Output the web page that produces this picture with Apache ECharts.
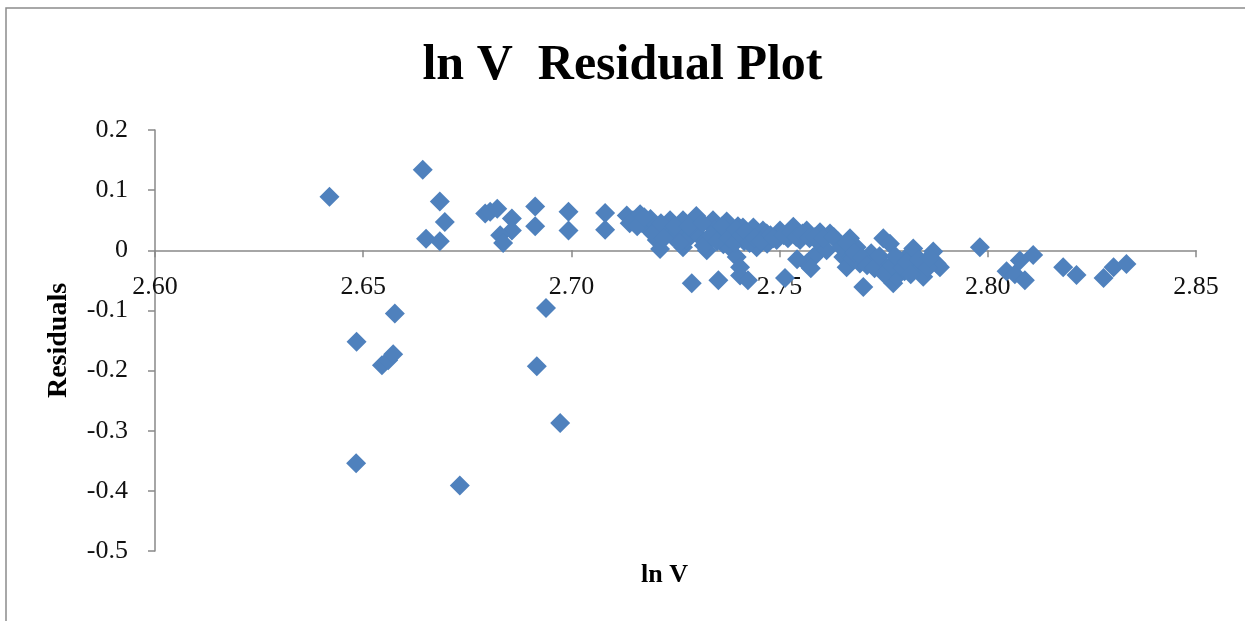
<!DOCTYPE html>
<html>
<head>
<meta charset="utf-8">
<script src="https://cdn.jsdelivr.net/npm/echarts@6/dist/echarts.min.js"></script>
<style>
html,body{margin:0;padding:0;background:#fff;}
#chart{width:1245px;height:621px;}
</style>
</head>
<body>
<div id="chart"></div>
<script>
// ln V values (x) and residuals (y)
const lnV = [
  2.6419, 2.6643, 2.6651, 2.6684, 2.6684, 2.6696, 2.6484, 2.6483, 2.6576, 2.6545,
  2.6560, 2.6572, 2.6732, 2.6939, 2.6917, 2.6973, 2.6793, 2.6805, 2.6822, 2.6857,
  2.6857, 2.6829, 2.6836, 2.6913, 2.6913, 2.6993, 2.6993, 2.7081, 2.7081,
  2.7133, 2.7148, 2.7165, 2.7170, 2.7180, 2.7190, 2.7205, 2.7205, 2.7213, 2.7229,
  2.7237, 2.7244, 2.7255, 2.7268, 2.7268, 2.7277, 2.7289, 2.7293, 2.7300, 2.7309,
  2.7325, 2.7325, 2.7340, 2.7345, 2.7353, 2.7357, 2.7365, 2.7373, 2.7380, 2.7388,
  2.7397, 2.7400, 2.7405, 2.7405, 2.7412, 2.7415, 2.7421, 2.7424, 2.7430, 2.7437,
  2.7445, 2.7450, 2.7460, 2.7470, 2.7469, 2.7493, 2.7501, 2.7513, 2.7520, 2.7533,
  2.7549, 2.7565, 2.7565, 2.7580, 2.7589, 2.7597, 2.7597, 2.7613, 2.7621, 2.7640,
  2.7653, 2.7661, 2.7669, 2.7675, 2.7685, 2.7693, 2.7701, 2.7720, 2.7733, 2.7749,
  2.7757, 2.7765, 2.7773, 2.7781, 2.7789, 2.7800, 2.7810, 2.7821, 2.7829, 2.7845,
  2.7869, 2.7877, 2.7885, 2.7981, 2.8045, 2.8065, 2.8077, 2.8089, 2.8109, 2.8181,
  2.8213, 2.8278, 2.8302, 2.8333,
  2.7140, 2.7158, 2.7175, 2.7195, 2.7215, 2.7222, 2.7248, 2.7260, 2.7282, 2.7315,
  2.7318, 2.7335, 2.7350, 2.7362, 2.7378, 2.7392, 2.7395, 2.7408, 2.7418, 2.7428,
  2.7440, 2.7455, 2.7478, 2.7485, 2.7510, 2.7528, 2.7540, 2.7555, 2.7572, 2.7585,
  2.7605, 2.7630, 2.7648, 2.7660, 2.7680, 2.7698, 2.7710, 2.7728, 2.7740, 2.7752,
  2.7770, 2.7778, 2.7795, 2.7805, 2.7815, 2.7835, 2.7855, 2.7860, 2.7542, 2.7575
];
const residuals = [
  0.089, 0.134, 0.019, 0.081, 0.015, 0.047, -0.152, -0.354, -0.105, -0.191,
  -0.183, -0.173, -0.391, -0.096, -0.193, -0.287, 0.061, 0.064, 0.069, 0.053,
  0.033, 0.025, 0.012, 0.073, 0.040, 0.064, 0.033, 0.062, 0.034,
  0.058, 0.050, 0.060, 0.045, 0.039, 0.052, 0.033, 0.017, 0.002, 0.039,
  0.050, 0.022, 0.030, 0.050, 0.005, 0.017, -0.055, 0.033, 0.057, 0.022,
  0.017, 0.000, 0.050, 0.035, -0.050, 0.028, 0.010, 0.048, 0.005, 0.028,
  -0.011, 0.040, -0.028, -0.042, 0.038, 0.015, 0.017, -0.050, 0.028, 0.038,
  0.005, 0.025, 0.033, 0.011, 0.028, 0.017, 0.033, -0.046, 0.020, 0.039,
  0.017, 0.033, -0.022, -0.012, -0.006, 0.030, 0.011, 0.000, 0.028, 0.015,
  -0.011, -0.028, 0.020, -0.015, 0.005, -0.022, -0.061, -0.005, -0.017, 0.020,
  -0.028, 0.011, -0.055, -0.044, -0.017, -0.035, -0.008, 0.003, -0.028, -0.044,
  -0.002, -0.022, -0.028, 0.005, -0.035, -0.040, -0.017, -0.050, -0.008, -0.028,
  -0.041, -0.046, -0.028, -0.023,
  0.045, 0.040, 0.055, 0.028, 0.045, 0.020, 0.040, 0.012, 0.040, 0.045,
  0.008, 0.025, 0.015, 0.040, 0.020, 0.012, 0.035, 0.025, 0.030, 0.012,
  0.020, 0.015, 0.025, 0.020, 0.025, 0.030, 0.022, 0.028, 0.020, 0.022,
  0.020, 0.022, 0.005, 0.012, -0.005, -0.012, -0.025, -0.030, -0.010, -0.040,
  -0.025, -0.010, -0.030, -0.020, -0.040, -0.015, -0.030, -0.012, -0.015, -0.030
];
const xTicks = { min: 2.60, max: 2.85, interval: 0.05 };
const yTicks = { min: -0.5, max: 0.2, interval: 0.1 };

const points = lnV.map((v, i) => [v, residuals[i]]);

const chart = echarts.init(document.getElementById('chart'), null, { renderer: 'canvas' });
const axisColor = '#898989';
const gridTop = 130, gridBottom = 70, H = 621;
chart.setOption({
  backgroundColor: '#ffffff',
  animation: false,
  graphic: [{
    type: 'rect',
    shape: { x: 6, y: 8, width: 1260, height: 640 },
    style: { fill: 'none', stroke: '#8c8c8c', lineWidth: 1.5 },
    silent: true
  }, {
    type: 'text',
    left: 641, top: 562,
    style: { text: 'ln V', font: 'bold 26px "Liberation Serif"', fill: '#000' },
    silent: true
  }],
  title: {
    text: 'ln V  Residual Plot',
    left: 'center',
    top: 36,
    textStyle: { fontFamily: 'Liberation Serif', fontWeight: 'bold', fontSize: 50, color: '#000' }
  },
  grid: { left: 155, right: 49, top: gridTop, bottom: gridBottom, containLabel: false, outerBoundsMode: 'none' },
  xAxis: {
    type: 'value',
    min: xTicks.min, max: xTicks.max, interval: xTicks.interval,
    axisLine: { onZero: true, onZeroAxisIndex: 0, lineStyle: { color: axisColor, width: 1.5 } },
    axisTick: { show: true, length: 7, lineStyle: { color: axisColor, width: 1.5 } },
    axisLabel: {
      margin: 24,
      fontFamily: 'Liberation Serif', fontSize: 26, color: '#111',
      formatter: v => v.toFixed(2)
    },
    splitLine: { show: false }
  },
  yAxis: {
    type: 'value',
    min: yTicks.min, max: yTicks.max, interval: yTicks.interval,
    name: 'Residuals',
    nameLocation: 'middle',
    nameGap: 82,
    nameRotate: 90,
    nameTextStyle: { fontFamily: 'Liberation Serif', fontWeight: 'bold', fontSize: 28, color: '#000' },
    axisLine: { show: true, lineStyle: { color: axisColor, width: 1.5 } },
    axisTick: { show: true, length: 7, lineStyle: { color: axisColor, width: 1.5 } },
    axisLabel: {
      margin: 27,
      fontFamily: 'Liberation Serif', fontSize: 26, color: '#111',
      formatter: v => { const r = Math.round(v * 10) / 10; return r === 0 ? '0' : String(r); }
    },
    splitLine: { show: false }
  },
  series: [{
    type: 'scatter',
    data: points,
    symbol: 'diamond',
    symbolSize: 20,
    itemStyle: { color: '#4F81BD', opacity: 1 },
    z: 3
  }]
});
// Place the x axis line at residual = 0 (as in the reference), using the library's own scale
const zeroPx = chart.convertToPixel({ yAxisIndex: 0 }, 0);
const bottomPx = H - gridBottom;
if (Math.abs(bottomPx - zeroPx) > 2) {
  chart.setOption({ xAxis: { axisLine: { onZero: false }, offset: -(bottomPx - zeroPx) } });
}
</script>
</body>
</html>
